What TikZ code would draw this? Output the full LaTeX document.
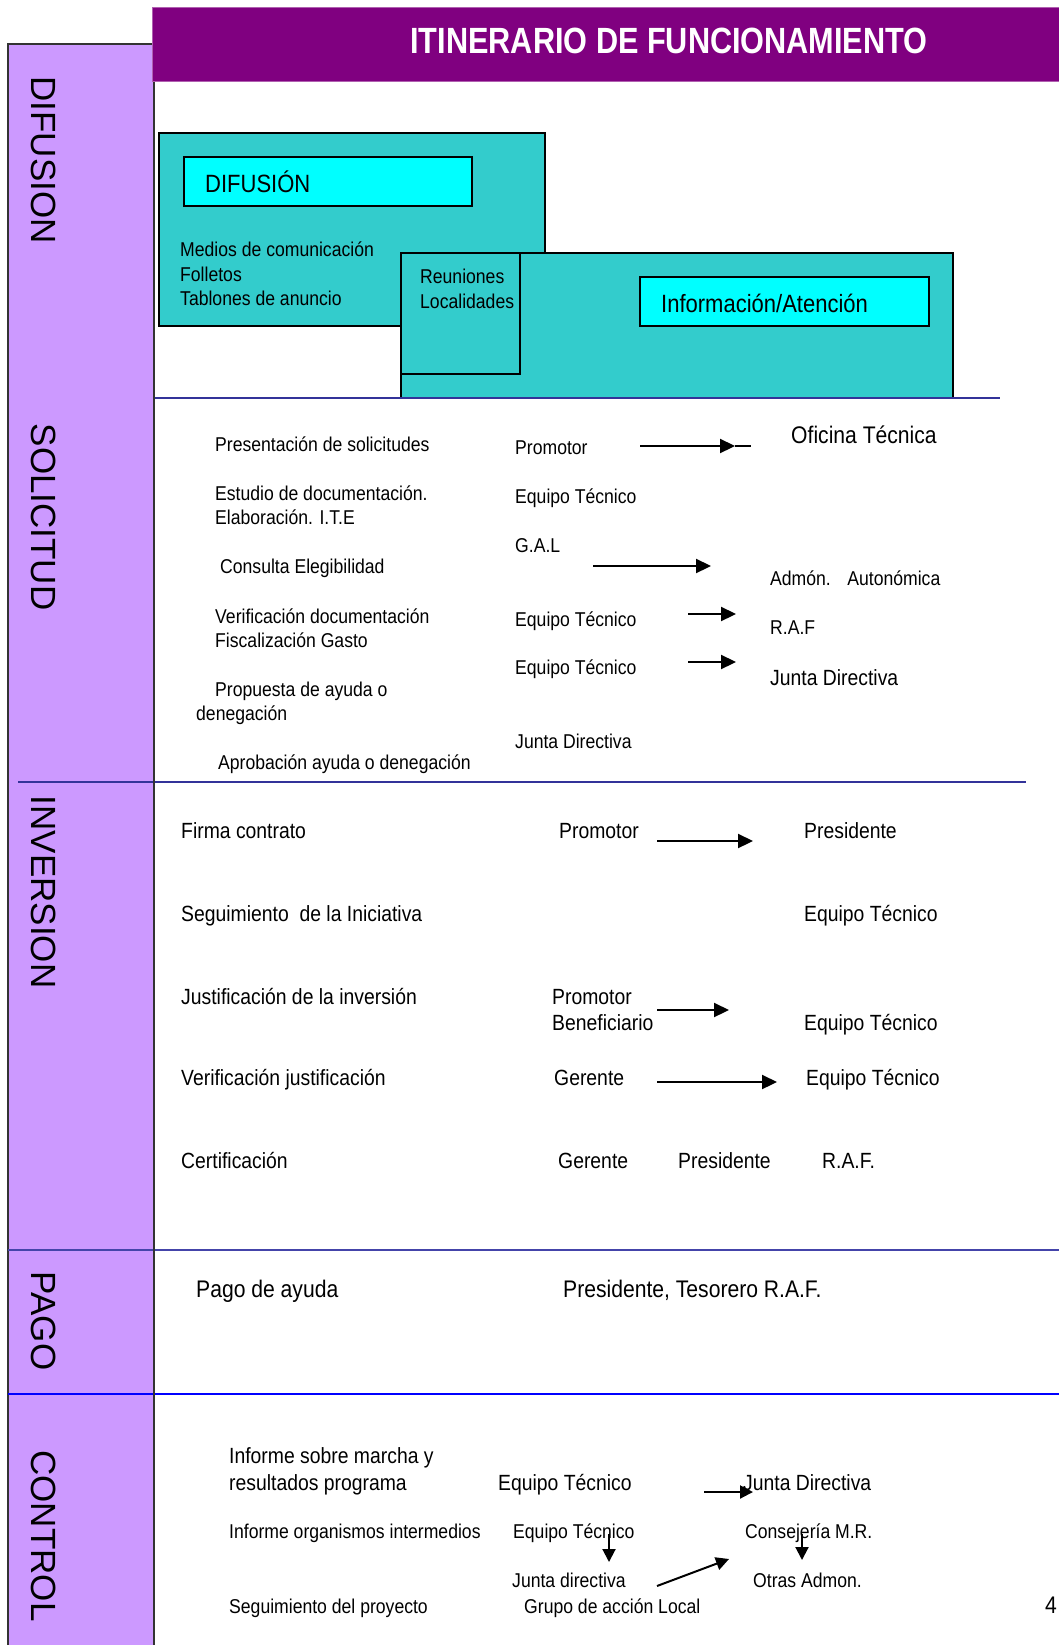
\documentclass[tikz,border=0pt]{standalone}
\usepackage{fontspec}
\setmainfont{Liberation Sans}
\newfontfamily\narrow{Liberation Sans}[FakeStretch=0.88]
\newfontfamily\titlefont{Liberation Sans}[FakeStretch=0.84]
\usetikzlibrary{arrows.meta}
\definecolor{colpurple}{HTML}{CC99FF}
\definecolor{headpurple}{HTML}{800080}
\definecolor{headedge}{HTML}{B060B0}
\definecolor{tealbox}{HTML}{33CCCC}
\definecolor{cyanbox}{HTML}{00FFFF}
\definecolor{navyline}{HTML}{333399}
\definecolor{midline}{HTML}{4444AA}
\definecolor{blueline}{HTML}{0000FF}
\tikzset{
  txt/.style={anchor=base west, inner sep=0pt, font=\narrow\fontsize{20}{24}\selectfont},
  txtm/.style={anchor=base west, inner sep=0pt, font=\narrow\fontsize{22}{26}\selectfont},
  txtl/.style={anchor=base west, inner sep=0pt, font=\narrow\fontsize{24}{28}\selectfont},
  txtbox/.style={anchor=base west, inner sep=0pt, font=\narrow\fontsize{25}{29}\selectfont},
  sidelabel/.style={anchor=center, inner sep=0pt, rotate=-90, font=\fontsize{35}{40}\selectfont},
  arr/.style={line width=2.2pt, -{Triangle[length=15pt,width=14pt]}},
  arrs/.style={line width=2pt, -{Triangle[length=13pt,width=13pt]}},
  tealrect/.style={fill=tealbox, draw=black, line width=2pt},
  cyanrect/.style={fill=cyanbox, draw=black, line width=2pt},
  sep/.style={line width=2pt}
}
\begin{document}
\begin{tikzpicture}[x=1pt,y=-1pt]
\useasboundingbox (0,0) rectangle (1059,1645);
\fill[white] (0,0) rectangle (1059,1645);

% left column
\draw[fill=colpurple, draw=black!80, line width=1.5pt] (8,1660) -- (8,44) -- (154,44) -- (154,1660);
% header
\draw[fill=headpurple, draw=headedge, line width=1pt] (152,8) rectangle (1070,82);
\node[font=\titlefont\bfseries\fontsize{36.5}{40}\selectfont, text=white, anchor=base, inner sep=0pt] (title) at (669,54) {ITINERARIO DE FUNCIONAMIENTO};

% side labels
\node[sidelabel] (lDif) at (44,160) {DIFUSION};
\node[sidelabel] (lSol) at (44,517) {SOLICITUD};
\node[sidelabel] (lInv) at (44,892) {INVERSION};
\node[sidelabel] (lPag) at (44,1321) {PAGO};
\node[sidelabel] (lCon) at (44,1536) {CONTROL};

% DIFUSION boxes
\draw[tealrect] (159,133) rectangle (545,326);
\draw[cyanrect] (184,157) rectangle (472,206);
\node[txtbox] (tDif) at (205,193) {DIFUSIÓN};
\node[txt] (tMed) at (180,256) {Medios de comunicación};
\node[txt] (tFol) at (180,281) {Folletos};
\node[txt] (tTab) at (180,305) {Tablones de anuncio};
\fill[tealbox] (401,253) rectangle (953,398);
\draw[black, line width=2pt] (401,398) -- (401,253) -- (953,253) -- (953,398);
\draw[tealrect] (401,253) rectangle (520,374);
\node[txt] (tReu) at (420,283) {Reuniones};
\node[txt] (tLoc) at (420,308) {Localidades};
\draw[cyanrect] (640,277) rectangle (929,326);
\node[txtbox] (tInf) at (661,312) {Información/Atención};

% separators
\draw[sep, navyline] (154,398) -- (1000,398);
\draw[sep, navyline] (18,782) -- (1026,782);
\draw[sep, midline] (8,1250) -- (1059,1250);
\draw[sep, blueline] (8,1394) -- (1059,1394);
\draw[black!80, line width=1.5pt] (154,82) -- (154,1660);

% SOLICITUD
\node[txt] (s1) at (215,451) {Presentación de solicitudes};
\node[txt] (s1m) at (515,454) {Promotor};
\node[txtl] (s1r) at (791,443) {Oficina Técnica};
\node[txt] (s2a) at (215,500) {Estudio de documentación.};
\node[txt] (s2b) at (215,524) {Elaboración. I.T.E};
\node[txt] (s2m) at (515,503) {Equipo Técnico};
\node[txt] (s3) at (220,573) {Consulta Elegibilidad};
\node[txt] (s3m) at (515,552) {G.A.L};
\node[txt] (s3r) at (770,585) {Admón.\hspace{10pt} Autonómica};
\node[txt] (s4a) at (215,623) {Verificación documentación};
\node[txt] (s4b) at (215,647) {Fiscalización Gasto};
\node[txt] (s4m) at (515,626) {Equipo Técnico};
\node[txt] (s4r) at (770,634) {R.A.F};
\node[txt] (s5a) at (215,696) {Propuesta de ayuda o};
\node[txt] (s5b) at (196,720) {denegación};
\node[txt] (s5m) at (515,674) {Equipo Técnico};
\node[txtm] (s5r) at (770,685) {Junta Directiva};
\node[txt] (s6) at (218,769) {Aprobación ayuda o denegación};
\node[txt] (s6m) at (515,748) {Junta Directiva};

\coordinate (a1s) at (640,446); \coordinate (a1t) at (735,446); \coordinate (a1e) at (751,446);
\draw[line width=2.2pt] (a1t) -- (a1e);
\draw[arr] (a1s) -- (a1t);
\coordinate (a2s) at (593,566); \coordinate (a2t) at (711,566);
\draw[arr] (a2s) -- (a2t);
\coordinate (a3s) at (688,614); \coordinate (a3t) at (736,614);
\draw[arr] (a3s) -- (a3t);
\coordinate (a4s) at (688,662); \coordinate (a4t) at (736,662);
\draw[arr] (a4s) -- (a4t);

% INVERSION
\node[txtm] (i1) at (181,838) {Firma contrato};
\node[txtm] (i1m) at (559,838) {Promotor};
\node[txtm] (i1r) at (804,838) {Presidente};
\node[txtm] (i2) at (181,921) {Seguimiento\ \ de la Iniciativa};
\node[txtm] (i2r) at (804,921) {Equipo Técnico};
\node[txtm] (i3) at (181,1004) {Justificación de la inversión};
\node[txtm] (i3m) at (552,1004) {Promotor};
\node[txtm] (i3n) at (552,1030) {Beneficiario};
\node[txtm] (i3r) at (804,1030) {Equipo Técnico};
\node[txtm] (i4) at (181,1085) {Verificación justificación};
\node[txtm] (i4m) at (554,1085) {Gerente};
\node[txtm] (i4r) at (806,1085) {Equipo Técnico};
\node[txtm] (i5) at (181,1168) {Certificación};
\node[txtm] (i5m) at (558,1168) {Gerente};
\node[txtm] (i5n) at (678,1168) {Presidente};
\node[txtm] (i5r) at (822,1168) {R.A.F.};

\coordinate (a5s) at (657,841); \coordinate (a5t) at (753,841);
\draw[arr] (a5s) -- (a5t);
\coordinate (a6s) at (657,1010); \coordinate (a6t) at (729,1010);
\draw[arr] (a6s) -- (a6t);
\coordinate (a7s) at (657,1082); \coordinate (a7t) at (777,1082);
\draw[arr] (a7s) -- (a7t);

% PAGO
\node[txtl] (p1) at (196,1297) {Pago de ayuda};
\node[txtl] (p1m) at (563,1297) {Presidente, Tesorero R.A.F.};

% CONTROL
\node[txtm] (c1a) at (229,1463) {Informe sobre marcha y};
\node[txtm] (c1b) at (229,1490) {resultados programa};
\node[txtm] (c1m) at (498,1490) {Equipo Técnico};
\node[txtm] (c1r) at (743,1490) {Junta Directiva};
\node[txt] (c2) at (229,1538) {Informe organismos intermedios};
\node[txt] (c2m) at (513,1538) {Equipo Técnico};
\node[txt] (c2r) at (745,1538) {Consejería M.R.};
\node[txt] (c3m) at (512,1587) {Junta directiva};
\node[txt] (c3r) at (753,1587) {Otras Admon.};
\node[txt] (c4) at (229,1613) {Seguimiento del proyecto};
\node[txt] (c4m) at (524,1613) {Grupo de acción Local};
\node[txtl] (pg) at (1045,1613) {4};

\coordinate (a8s) at (704,1492); \coordinate (a8t) at (753,1492);
\draw[arrs] (a8s) -- (a8t);
\coordinate (a9s) at (609,1534); \coordinate (a9t) at (609,1562);
\draw[arrs] (a9s) -- (a9t);
\coordinate (a10s) at (802,1534); \coordinate (a10t) at (802,1560);
\draw[arrs] (a10s) -- (a10t);
\coordinate (a11s) at (657,1586); \coordinate (a11t) at (729,1559);
\draw[arrs] (a11s) -- (a11t);
\end{tikzpicture}
\end{document}
